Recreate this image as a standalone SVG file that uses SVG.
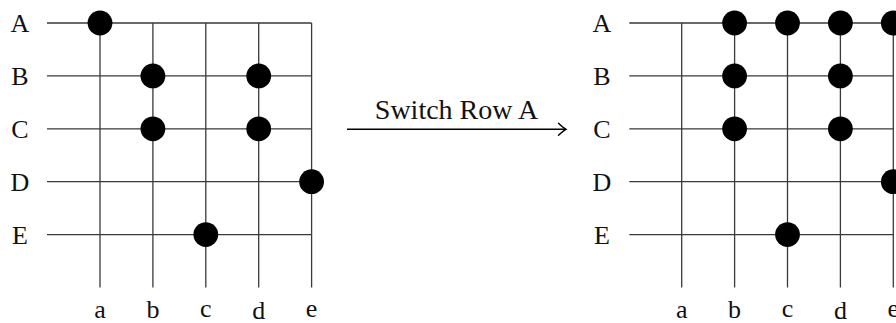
<svg xmlns="http://www.w3.org/2000/svg" width="896" height="323" viewBox="0 0 896 323">
<style>
.g{stroke:#3a3a3a;stroke-width:1.3;fill:none}
.dot{fill:#000}
text{font-family:"Liberation Serif","Times New Roman",serif;font-size:26px;fill:#111;text-anchor:middle}
</style>
<defs>
<marker id="arr" markerWidth="12" markerHeight="14" refX="9" refY="7" orient="auto" markerUnits="userSpaceOnUse">
<path d="M1.5,1 Q6,5.5 9,7 Q6,8.5 1.5,13" fill="none" stroke="#000" stroke-width="1.4" stroke-linecap="round"/>
</marker>
</defs>
<rect width="896" height="323" fill="#fff"/>
<g id="left-grid">
<g id="left-lines">
<path class="g" d="M47,23H311.6M47,75.9H311.6M47,128.8H311.6M47,181.7H311.6M47,234.6H311.6"/>
<path class="g" d="M100,23V287.5M152.9,23V287.5M205.8,23V287.5M258.7,23V287.5M311.6,23V287.5"/>
</g>
<g id="left-labels">
<text x="20" y="32">A</text><text x="20" y="85">B</text><text x="20" y="138">C</text><text x="20" y="191">D</text><text x="20" y="244">E</text>
<text x="100" y="318">a</text><text x="152.9" y="318">b</text><text x="205.8" y="317">c</text><text x="258.7" y="319">d</text><text x="311.6" y="317">e</text>
</g>
<g id="left-dots">
<circle class="dot" cx="100" cy="23" r="12.4"/>
<circle class="dot" cx="152.9" cy="75.9" r="12.4"/>
<circle class="dot" cx="258.7" cy="75.9" r="12.4"/>
<circle class="dot" cx="152.9" cy="128.8" r="12.4"/>
<circle class="dot" cx="258.7" cy="128.8" r="12.4"/>
<circle class="dot" cx="311.6" cy="181.7" r="12.4"/>
<circle class="dot" cx="205.8" cy="234.6" r="12.4"/>
</g>
</g>
<g id="connectors">
<line x1="347" y1="129.3" x2="566" y2="129.3" stroke="#000" stroke-width="1.5" marker-end="url(#arr)"/>
<text x="456.5" y="119" style="font-size:28px">Switch Row A</text>
</g>
<g id="right-grid">
<g id="right-lines">
<path class="g" d="M629.3,23H893.3M629.3,75.9H893.3M629.3,128.8H893.3M629.3,181.7H893.3M629.3,234.6H893.3"/>
<path class="g" d="M681.7,23V287.5M734.6,23V287.5M787.5,23V287.5M840.4,23V287.5M893.3,23V287.5"/>
</g>
<g id="right-labels">
<text x="602" y="32">A</text><text x="602" y="85">B</text><text x="602" y="138">C</text><text x="602" y="191">D</text><text x="602" y="244">E</text>
<text x="681.7" y="318">a</text><text x="734.6" y="318">b</text><text x="787.5" y="317">c</text><text x="840.4" y="319">d</text><text x="893.3" y="317">e</text>
</g>
<g id="right-dots">
<circle class="dot" cx="734.6" cy="23" r="12.4"/>
<circle class="dot" cx="787.5" cy="23" r="12.4"/>
<circle class="dot" cx="840.4" cy="23" r="12.4"/>
<circle class="dot" cx="893.3" cy="23" r="12.4"/>
<circle class="dot" cx="734.6" cy="75.9" r="12.4"/>
<circle class="dot" cx="840.4" cy="75.9" r="12.4"/>
<circle class="dot" cx="734.6" cy="128.8" r="12.4"/>
<circle class="dot" cx="840.4" cy="128.8" r="12.4"/>
<circle class="dot" cx="893.3" cy="181.7" r="12.4"/>
<circle class="dot" cx="787.5" cy="234.6" r="12.4"/>
</g>
</g>
</svg>
